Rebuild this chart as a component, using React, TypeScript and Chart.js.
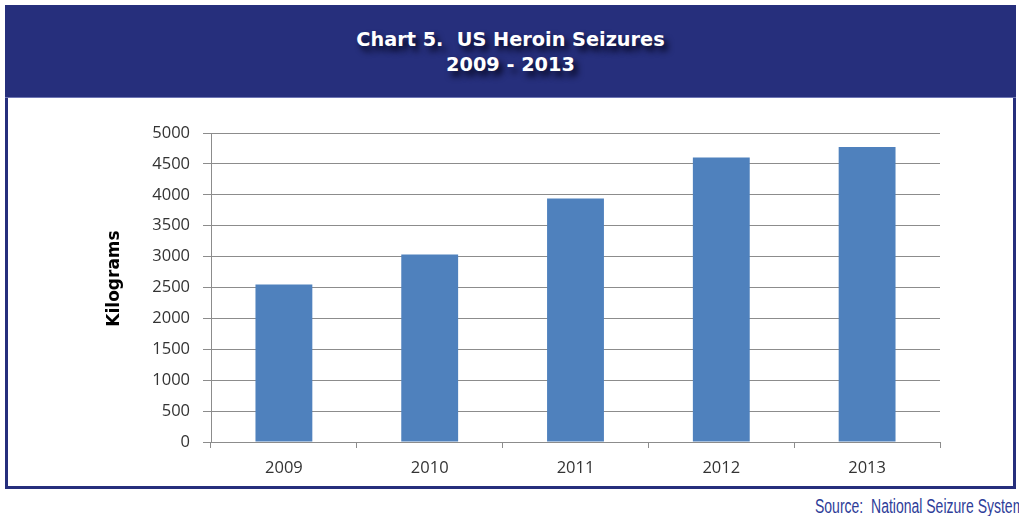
import React, { useEffect, useRef } from "react";
import { Chart, registerables } from "chart.js";

Chart.register(...registerables);

const categories: string[] = ["2009", "2010", "2011", "2012", "2013"];
const seizuresKg: number[] = [2550, 3035, 3940, 4605, 4775];
const yTicks: number[] = [0, 500, 1000, 1500, 2000, 2500, 3000, 3500, 4000, 4500, 5000];
const titleLines: string[] = ["Chart 5.  US Heroin Seizures", "2009 - 2013"];
const yAxisTitle = "Kilograms";
const sourceText = "Source:  National Seizure System";

const NAVY = "#262f7c";
const GRID = "#8c8c8c";
const BAR = "#4f81bd";

const yTitlePlugin = {
  id: "yTitlePlugin",
  afterDraw(chart: any) {
    const ctx = chart.ctx;
    const area = chart.chartArea;
    ctx.save();
    ctx.translate(107, (area.top + area.bottom) / 2 - 9);
    ctx.rotate(-Math.PI / 2);
    ctx.font = "bold 17px 'DejaVu Sans', sans-serif";
    ctx.fillStyle = "#000000";
    ctx.textAlign = "center";
    ctx.textBaseline = "middle";
    ctx.fillText(yAxisTitle, 0, 0);
    ctx.restore();
  },
};

export default function App() {
  const canvasRef = useRef<HTMLCanvasElement | null>(null);

  useEffect(() => {
    if (!canvasRef.current) return;
    const chart = new Chart(canvasRef.current, {
      type: "bar",
      data: {
        labels: categories,
        datasets: [
          {
            label: "Kilograms",
            data: seizuresKg,
            backgroundColor: BAR,
            borderWidth: 0,
            barPercentage: 0.39,
            categoryPercentage: 1.0,
          },
        ],
      },
      options: {
        responsive: false,
        animation: false,
        devicePixelRatio: 1,
        layout: { padding: { left: 0, right: 73, top: 33, bottom: 0 } },
        plugins: {
          legend: { display: false },
          title: { display: false },
          tooltip: { enabled: false },
        },
        scales: {
          x: {
            offset: true,
            grid: {
              display: true,
              offset: true,
              drawOnChartArea: false,
              drawTicks: true,
              tickLength: 6,
              color: GRID,
            },
            border: { display: true, color: GRID, width: 1 },
            ticks: {
              color: "#333333",
              padding: 10,
              font: { family: "'Open Sans', sans-serif", size: 16.5 },
            },
            afterFit: (scale: any) => {
              scale.height = 44;
            },
          },
          y: {
            min: 0,
            max: 5000,
            afterBuildTicks: (scale: any) => {
              scale.ticks = yTicks.map((v) => ({ value: v }));
            },
            grid: {
              color: GRID,
              drawTicks: true,
              tickLength: 8,
            },
            border: { display: true, color: GRID, width: 1 },
            ticks: {
              color: "#333333",
              padding: 13,
              font: { family: "'Open Sans', sans-serif", size: 16.5 },
              callback: (value: any) => String(value),
            },
            afterFit: (scale: any) => {
              scale.width = 203;
            },
          },
        },
      },
      plugins: [yTitlePlugin],
    });
    return () => chart.destroy();
  }, []);

  return (
    <div
      style={{
        position: "absolute",
        left: 0,
        top: 0,
        width: 1019,
        height: 516,
        background: "#ffffff",
        overflow: "hidden",
      }}
    >
      <div
        style={{
          position: "absolute",
          left: 5,
          top: 5,
          width: 1011,
          height: 484,
          boxSizing: "border-box",
          border: `3px solid ${NAVY}`,
          background: "#ffffff",
        }}
      />
      <div
        style={{
          position: "absolute",
          left: 5,
          top: 5,
          width: 1011,
          height: 92,
          background: NAVY,
          borderBottom: "1px solid #6e76b4",
        }}
      />
      {titleLines.map((line, i) => (
        <div
          key={i}
          style={{
            position: "absolute",
            left: 5,
            width: 1011,
            top: 40 + i * 25 - 12,
            height: 24,
            lineHeight: "24px",
            textAlign: "center",
            color: "#ffffff",
            fontFamily: "'DejaVu Sans', sans-serif",
            fontWeight: "bold",
            fontSize: 19.3,
            whiteSpace: "pre",
            textShadow: "4px 5px 6px rgba(0,0,20,0.9)",
          }}
        >
          {line}
        </div>
      ))}
      <canvas
        ref={canvasRef}
        width={1005}
        height={386}
        style={{ position: "absolute", left: 8, top: 100, width: 1005, height: 386 }}
      />
      <div
        style={{
          position: "absolute",
          left: 815,
          top: 506 - 12,
          height: 24,
          lineHeight: "24px",
          color: "#2e3d99",
          fontFamily: "'Liberation Sans', Arial, sans-serif",
          fontSize: 20,
          whiteSpace: "pre",
          transform: "scaleX(0.7)",
          transformOrigin: "left center",
        }}
      >
        {sourceText}
      </div>
    </div>
  );
}
